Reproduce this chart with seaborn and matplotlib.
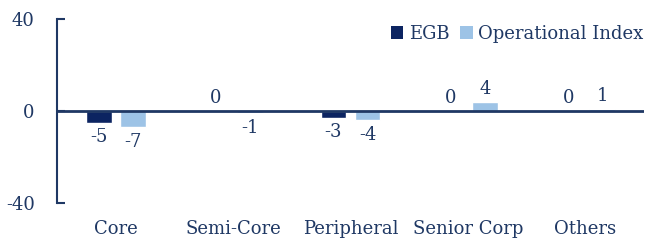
import matplotlib
matplotlib.use("Agg")
import matplotlib.pyplot as plt
import seaborn as sns
import pandas as pd
from matplotlib.patches import Patch

categories = ["Core", "Semi-Core", "Peripheral", "Senior Corp", "Others"]
egb = [-5, 0, -3, 0, 0]
operational = [-7, -1, -4, 4, 1]
series_names = ["EGB", "Operational Index"]
yticks = [-40, 0, 40]

df = pd.DataFrame({
    "category": categories * 2,
    "value": egb + operational,
    "series": [series_names[0]] * len(categories) + [series_names[1]] * len(categories),
})

sns.set_theme(style="white")
plt.rcParams["font.family"] = ["DejaVu Serif"]
text_color = "#1F3864"
colors = ["#0C2461", "#9DC3E6"]
fs = 13

fig = plt.figure(figsize=(6.48, 2.44), dpi=100)
ax = fig.add_axes([57/648, 41/244, 587/648, 184/244])

sns.barplot(data=df, x="category", y="value", hue="series", order=categories,
            hue_order=series_names, palette=colors, width=0.58, gap=0.24,
            ax=ax, legend=False, saturation=1)

ax.set_ylim(-40, 40)
ax.set_yticks(yticks)
ax.set_yticklabels([str(t) for t in yticks], fontsize=fs, color=text_color)
ax.set_xlabel("")
ax.set_ylabel("")
ax.tick_params(axis="x", length=0, labelsize=fs, colors=text_color, pad=12)
ax.tick_params(axis="y", left=True, direction="in", length=6, width=1.5,
               color=text_color, pad=16)
for t in ax.get_xticklabels():
    t.set_color(text_color)

for s in ["top", "right", "bottom"]:
    ax.spines[s].set_visible(False)
ax.spines["left"].set_color(text_color)
ax.spines["left"].set_linewidth(1.5)
ax.axhline(0, color=text_color, lw=2, zorder=3)

for container in ax.containers:
    for bar in container:
        h = bar.get_height()
        lab = f"{h:.0f}"
        x = bar.get_x() + bar.get_width() / 2
        if h < 0:
            ax.annotate(lab, (x, h), xytext=(0, -4), textcoords="offset points",
                        ha="center", va="top", fontsize=fs, color=text_color)
        else:
            ax.annotate(lab, (x, h), xytext=(0, 3), textcoords="offset points",
                        ha="center", va="bottom", fontsize=fs, color=text_color)

handles = [Patch(facecolor=c, edgecolor="none") for c in colors]
leg = fig.legend(handles, series_names, loc="center right", bbox_to_anchor=(0.993, 1 - 34/244),
                 frameon=False, ncol=2, fontsize=fs, handlelength=0.7, handleheight=0.7,
                 handletextpad=0.3, columnspacing=0.6, borderaxespad=0.0, borderpad=0.0)
for t in leg.get_texts():
    t.set_color(text_color)

fig.savefig("out.png", dpi=100)
